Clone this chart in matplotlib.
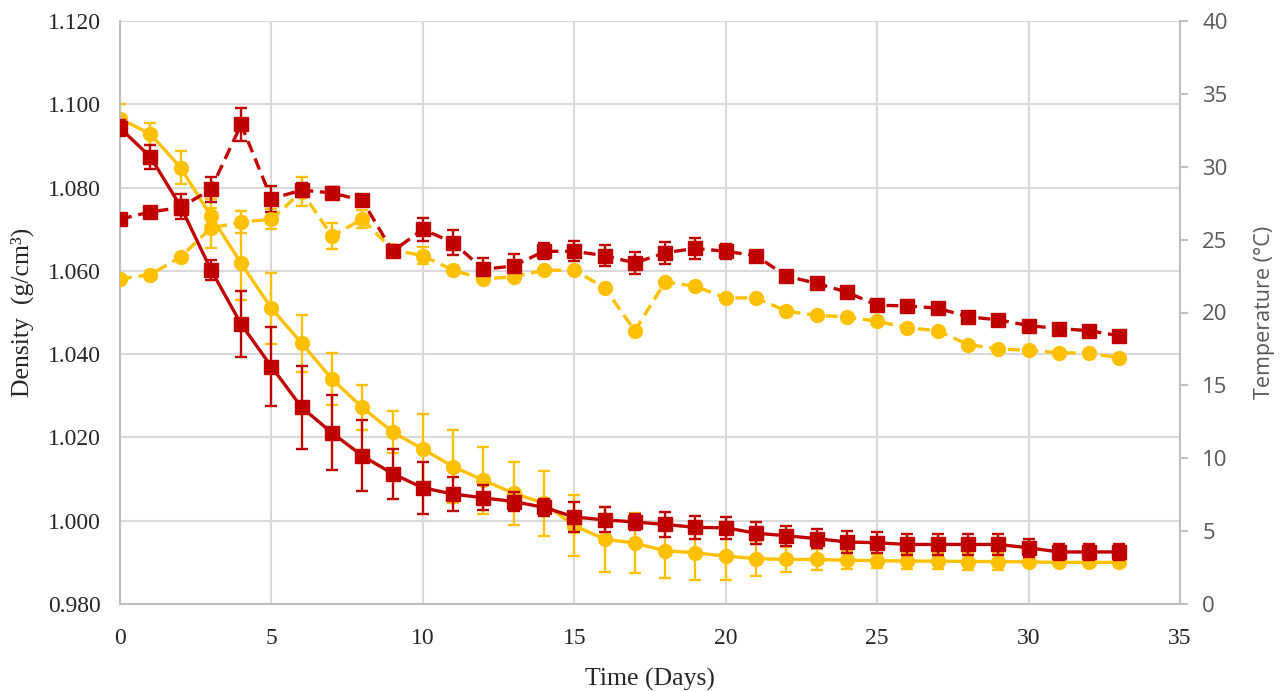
import matplotlib
matplotlib.use("Agg")
import matplotlib.pyplot as plt

days = list(range(34))

density_red = [1.0943, 1.0874, 1.0755, 1.0603, 1.0472, 1.0370, 1.0272, 1.0211, 1.0156, 1.0113,
               1.0079, 1.0064, 1.0055, 1.0046, 1.0032, 1.0009, 1.0002, 0.9997, 0.9991, 0.9984,
               0.9983, 0.9970, 0.9964, 0.9957, 0.9949, 0.9947, 0.9943, 0.9943, 0.9943, 0.9943,
               0.9935, 0.9925, 0.9925, 0.9925]
density_red_err = [0.0020, 0.0029, 0.0030, 0.0024, 0.0079, 0.0094, 0.0100, 0.0090, 0.0085, 0.0060,
                   0.0063, 0.0040, 0.0030, 0.0022, 0.0020, 0.0035, 0.0030, 0.0020, 0.0030, 0.0027,
                   0.0026, 0.0027, 0.0024, 0.0022, 0.0026, 0.0025, 0.0025, 0.0025, 0.0025, 0.0025,
                   0.0022, 0.0020, 0.0020, 0.0020]

density_yellow = [1.0965, 1.0929, 1.0848, 1.0732, 1.0618, 1.0510, 1.0426, 1.0340, 1.0272, 1.0213,
                  1.0172, 1.0130, 1.0097, 1.0066, 1.0042, 0.9988, 0.9956, 0.9946, 0.9928, 0.9923,
                  0.9915, 0.9909, 0.9907, 0.9907, 0.9905, 0.9904, 0.9903, 0.9903, 0.9902, 0.9902,
                  0.9901, 0.9900, 0.9900, 0.9900]
density_yellow_err = [0.0036, 0.0027, 0.0040, 0.0040, 0.0087, 0.0086, 0.0068, 0.0062, 0.0055, 0.0050,
                      0.0084, 0.0087, 0.0080, 0.0076, 0.0078, 0.0073, 0.0078, 0.0072, 0.0066, 0.0066,
                      0.0058, 0.0042, 0.0031, 0.0026, 0.0022, 0.0017, 0.0020, 0.0020, 0.0020, 0.0020,
                      0.0008, 0.0008, 0.0008, 0.0008]

temp_red = [26.4, 26.9, 27.2, 28.45, 32.9, 27.8, 28.4, 28.2, 27.7, 24.2,
            25.7, 24.8, 22.96, 23.2, 24.2, 24.2, 23.9, 23.4, 24.1, 24.4,
            24.2, 23.9, 22.5, 22.0, 21.4, 20.5, 20.45, 20.3, 19.7, 19.5,
            19.1, 18.9, 18.75, 18.4]
temp_red_err = [0.3, 0.3, 0.5, 0.86, 1.15, 0.9, 0.5, 0.4, 0.3, 0.3,
                0.77, 0.85, 0.8, 0.8, 0.55, 0.7, 0.73, 0.73, 0.74, 0.7,
                0.5, 0.0, 0.0, 0.0, 0.0, 0.0, 0.0, 0.0, 0.0, 0.0,
                0.0, 0.0, 0.0, 0.0]

temp_yellow = [22.3, 22.6, 23.8, 25.8, 26.2, 26.4, 28.3, 25.25, 26.4, 24.3,
               23.9, 22.9, 22.3, 22.45, 22.9, 22.9, 21.7, 18.75, 22.1, 21.8,
               21.0, 21.0, 20.1, 19.8, 19.7, 19.4, 18.95, 18.75, 17.8, 17.5,
               17.4, 17.25, 17.2, 16.9]
temp_yellow_err = [0.0, 0.0, 0.0, 1.4, 0.77, 0.7, 1.0, 0.9, 0.63, 0.0,
                   0.57, 0.0, 0.0, 0.0, 0.0, 0.0, 0.0, 0.0, 0.0, 0.0,
                   0.0, 0.0, 0.0, 0.0, 0.0, 0.0, 0.0, 0.0, 0.0, 0.0,
                   0.0, 0.0, 0.0, 0.0]

x_ticks = [0, 5, 10, 15, 20, 25, 30, 35]
density_ticks = [0.980, 1.000, 1.020, 1.040, 1.060, 1.080, 1.100, 1.120]
temp_ticks = [0, 5, 10, 15, 20, 25, 30, 35, 40]

RED = "#C00000"
YEL = "#FFC000"
GRID = "#D9D9D9"
SPINE = "#BFBFBF"
SERIF = ["Liberation Serif", "DejaVu Serif"]
SANS = ["Open Sans", "DejaVu Sans"]

fig = plt.figure(figsize=(12.82, 6.91), dpi=100)
ax = fig.add_axes([120/1282, 1-604/691, (1180-120)/1282, (604-21)/691])
ax2 = ax.twinx()

lw = 2.4
dash = (0, (3.6, 2.0))
common = dict(linewidth=lw, capsize=4.3, elinewidth=1.7, capthick=1.7)

ax.errorbar(days, density_red, yerr=density_red_err, color=RED, marker="s", markersize=10,
            linestyle="-", zorder=3, **common)
ax.errorbar(days, density_yellow, yerr=density_yellow_err, color=YEL, marker="o", markersize=10,
            linestyle="-", zorder=2, **common)

ax2.errorbar(days, temp_yellow, yerr=temp_yellow_err, color=YEL, marker="o", markersize=10,
             linestyle=dash, **common)
ax2.errorbar(days, temp_red, yerr=temp_red_err, color=RED, marker="s", markersize=10,
             linestyle=dash, **common)

ax.set_xlim(0, 35)
ax.set_ylim(0.980, 1.120)
ax2.set_ylim(0, 40)
ax.set_xticks(x_ticks)
ax.set_yticks(density_ticks)
ax.set_yticklabels([f"{v:.3f}" for v in density_ticks])
ax2.set_yticks(temp_ticks)

ax.grid(True, color=GRID, linewidth=1.5)
ax.set_axisbelow(True)

ax.spines["top"].set_visible(False)
ax2.spines["top"].set_visible(False)
ax.spines["right"].set_visible(False)
ax2.spines["left"].set_visible(False)
ax2.spines["bottom"].set_visible(False)
for sp in [ax.spines["left"], ax.spines["bottom"], ax2.spines["right"]]:
    sp.set_color(SPINE)
    sp.set_linewidth(1.5)

ax.tick_params(axis="y", length=0, pad=14, labelsize=17, labelcolor="#262626")
ax.tick_params(axis="x", length=0, pad=17, labelsize=17, labelcolor="#262626")
for lab in ax.get_xticklabels() + ax.get_yticklabels():
    lab.set_family(SERIF)
ax2.tick_params(axis="y", length=6, width=1.5, color=SPINE, pad=10, labelsize=16, labelcolor="#595959")
for lab in ax2.get_yticklabels():
    lab.set_family(SANS)

ax.set_xlabel("Time (Days)", family=SERIF, fontsize=18.5, color="#262626", labelpad=14)
ax.set_ylabel("Density  (g/cm³)", family=SERIF, fontsize=18.5, color="#262626", labelpad=10)
ax2.set_ylabel("Temperature (°C)", family=SANS, fontsize=15.5, color="#595959", labelpad=19)

fig.savefig("out.png", dpi=100)
